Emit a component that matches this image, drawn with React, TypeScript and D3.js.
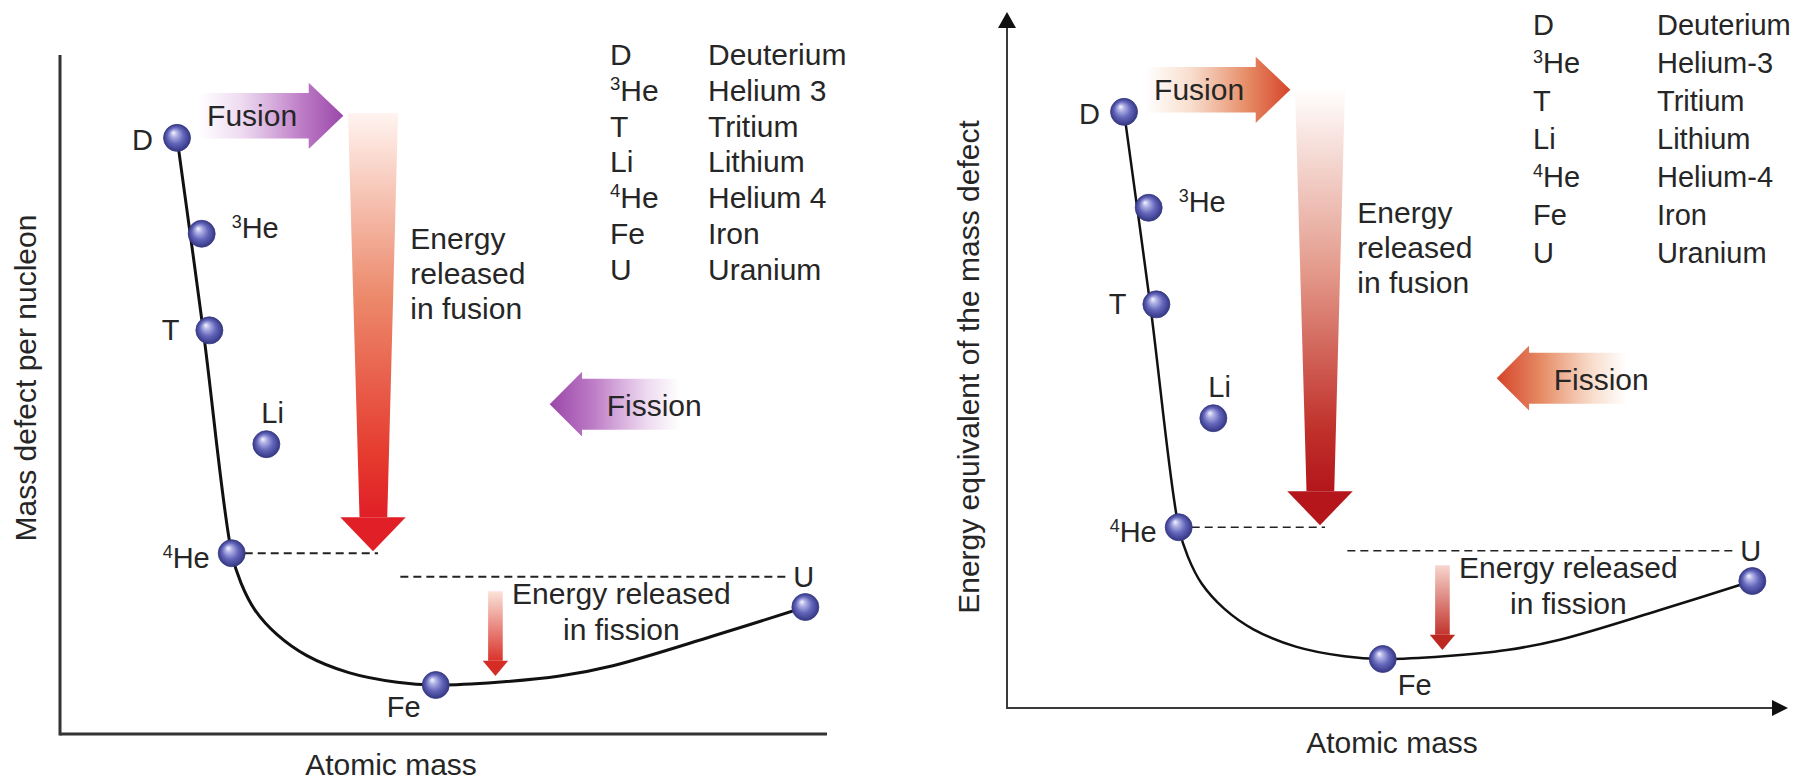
import React from "react";
import * as d3 from "d3";

// ---------- DATA (abstract units: atomic mass 0-100, mass defect 0-100) ----------
const nuclides = ["D", "3He", "T", "Li", "4He", "Fe", "U"];
const nuclideMass = [15.2, 18.4, 19.4, 26.8, 22.3, 48.8, 96.8];
const nuclideDefect = [86.4, 72.5, 58.5, 42.0, 26.2, 7.1, 18.4];

const curveMass = [15.2, 18.6, 22.3, 23.5, 25.3, 28.2, 32.0, 37.5, 43.8, 48.8, 56.8, 64.9, 71.8, 84.8, 96.8];
const curveDefect = [86.4, 58.5, 26.2, 21.9, 18.0, 14.4, 11.4, 8.9, 7.5, 7.1, 7.5, 8.4, 9.9, 14.2, 18.4];

const legendSymbols = ["D", "3He", "T", "Li", "4He", "Fe", "U"];
const legendNamesLeft = ["Deuterium", "Helium 3", "Tritium", "Lithium", "Helium 4", "Iron", "Uranium"];
const legendNamesRight = ["Deuterium", "Helium-3", "Tritium", "Lithium", "Helium-4", "Iron", "Uranium"];

const xTitle = "Atomic mass";
const yTitleLeft = "Mass defect per nucleon";
const yTitleRight = "Energy equivalent of the mass defect";
const fusionLines = ["Energy", "released", "in fusion"];
const fissionLines = ["Energy released", "in fission"];

// ---------- LAYOUT (styles / positions, not data) ----------
const W = 1807;
const H = 782;
const FONT = "'Liberation Sans', Arial, Helvetica, sans-serif";
const TEXT = "#262626";

const labelOffsets: Record<string, { anchor: string; dx: number; dy: number }> = {
  D: { anchor: "end", dx: -24, dy: 12 },
  "3He": { anchor: "start", dx: 30, dy: 4 },
  T: { anchor: "end", dx: -30, dy: 10 },
  Li: { anchor: "start", dx: -5, dy: -21 },
  "4He": { anchor: "end", dx: -22, dy: 15 },
  U: { anchor: "start", dx: -12, dy: -20 },
};

const annot = {
  fusionArrow: { x0: 18, xHead: 32.3, xTip: 36.8, yc: 89.6, bh: 3.3, hh: 4.8 },
  fusionText: { x: 19.1, y: 88.1 },
  fissionArrow: { xTip: 63.6, xHead: 67.8, x1: 80.5, yc: 47.8, bh: 3.7, hh: 4.7 },
  fissionText: { x: 71.0, y: 46.1 },
  energyArrow: { yTop: 90, yHead: 31.4, yTip: 26.5, topL: 37.4, topR: 43.9, botL: 38.9, botR: 42.5, headL: 36.4, headR: 44.9 },
  energyText: { x: 45.5, ys: [70.3, 65.2, 60.1] },
  dash1: { x1: 41.3, y: 26.2 },
  dash2: { x0: 44.2, x1: 94.5, y: 22.8 },
  smallArrow: { yTop: 20.7, yHead: 10.6, yTip: 8.4, bodyL: 55.6, bodyR: 57.5, headL: 54.9, headR: 58.2 },
  smallText: { x: 72.9, ys: [18.8, 13.6] },
};

const panels = [
  {
    id: "L",
    ox: 60, oy: 734, xAxisEnd: 827, yAxisTop: 55, arrows: false,
    axisW: 3, axisColor: "#333", curveW: 3, dashW: 2,
    yTitle: yTitleLeft, yTitleX: 36, yTitleY: 378, xTitleX: 391, xTitleY: 775,
    legendX1: 610, legendX2: 708, legendY0: 65, legendDy: 35.8, legendFont: 30,
    names: legendNamesLeft,
    feLabel: { anchor: "start", dx: -49, dy: 32 },
    side: { dark: "#9a47a8", mid: "#bf7fc8", light: "#ecd6ef" },
    big: { top: "#fff4f0", mid: "#ec8a6c", low: "#e53a2e", head: "#e01f27" },
    small: { top: "#fbe3da", low: "#d9332b", head: "#d52c26" },
  },
  {
    id: "R",
    ox: 1007, oy: 708, xAxisEnd: 1788, yAxisTop: 12, arrows: true,
    axisW: 2, axisColor: "#3a3a3a", curveW: 2.5, dashW: 1.6,
    yTitle: yTitleRight, yTitleX: 979, yTitleY: 367, xTitleX: 1392, xTitleY: 753,
    legendX1: 1533, legendX2: 1657, legendY0: 35, legendDy: 38, legendFont: 29,
    names: legendNamesRight,
    feLabel: { anchor: "start", dx: 15, dy: 36 },
    side: { dark: "#d5442a", mid: "#e68c66", light: "#f8dccb" },
    big: { top: "#ffffff", mid: "#e49b8c", low: "#c0302a", head: "#b4161b" },
    small: { top: "#f7d6cf", low: "#c2342c", head: "#bd2820" },
  },
];

function sym(s: string, fs: number) {
  const m = s.match(/^(\d+)(.*)$/);
  if (!m) return s;
  const up = Math.round(fs * 0.36);
  return [
    <tspan key="a" fontSize={fs * 0.62} dy={-up}>{m[1]}</tspan>,
    <tspan key="b" dy={up}>{m[2]}</tspan>,
  ];
}

function Panel({ p }: { p: (typeof panels)[number] }) {
  const x = d3.scaleLinear().domain([0, 100]).range([p.ox, p.ox + 770]);
  const y = d3.scaleLinear().domain([0, 100]).range([p.oy, p.oy - 690]);
  const curvePts = curveMass.map((m, i) => [m, curveDefect[i]] as [number, number]);
  const line = d3
    .line<[number, number]>()
    .x((d) => x(d[0]))
    .y((d) => y(d[1]))
    .curve(d3.curveCatmullRom.alpha(0.5));

  const fa = annot.fusionArrow;
  const fusionPoly = [
    [fa.x0, fa.yc + fa.bh], [fa.xHead, fa.yc + fa.bh], [fa.xHead, fa.yc + fa.hh], [fa.xTip, fa.yc],
    [fa.xHead, fa.yc - fa.hh], [fa.xHead, fa.yc - fa.bh], [fa.x0, fa.yc - fa.bh],
  ].map((d) => `${x(d[0])},${y(d[1])}`).join(" ");

  const fi = annot.fissionArrow;
  const fissionPoly = [
    [fi.x1, fi.yc + fi.bh], [fi.xHead, fi.yc + fi.bh], [fi.xHead, fi.yc + fi.hh], [fi.xTip, fi.yc],
    [fi.xHead, fi.yc - fi.hh], [fi.xHead, fi.yc - fi.bh], [fi.x1, fi.yc - fi.bh],
  ].map((d) => `${x(d[0])},${y(d[1])}`).join(" ");

  const ea = annot.energyArrow;
  const energyBody = [
    [ea.topL, ea.yTop], [ea.topR, ea.yTop], [ea.botR, ea.yHead], [ea.botL, ea.yHead],
  ].map((d) => `${x(d[0])},${y(d[1])}`).join(" ");
  const energyHead = [
    [ea.headL, ea.yHead], [ea.headR, ea.yHead], [(ea.headL + ea.headR) / 2, ea.yTip],
  ].map((d) => `${x(d[0])},${y(d[1])}`).join(" ");

  const sa = annot.smallArrow;
  const smallBody = [
    [sa.bodyL, sa.yTop], [sa.bodyR, sa.yTop], [sa.bodyR, sa.yHead], [sa.bodyL, sa.yHead],
  ].map((d) => `${x(d[0])},${y(d[1])}`).join(" ");
  const smallHead = [
    [sa.headL, sa.yHead], [sa.headR, sa.yHead], [(sa.headL + sa.headR) / 2, sa.yTip],
  ].map((d) => `${x(d[0])},${y(d[1])}`).join(" ");

  const id = p.id;
  const he4 = nuclides.indexOf("4He");

  return (
    <g>
      <defs>
        <radialGradient id={`ball${id}`} cx="0.5" cy="0.5" r="0.5" fx="0.36" fy="0.3">
          <stop offset="0" stopColor="#f6f6ff" />
          <stop offset="0.25" stopColor="#aeb0e4" />
          <stop offset="0.6" stopColor="#6466bb" />
          <stop offset="0.9" stopColor="#404292" />
          <stop offset="1" stopColor="#35377c" />
        </radialGradient>
        <linearGradient id={`fus${id}`} gradientUnits="userSpaceOnUse" x1={x(fa.x0)} y1={0} x2={x(fa.xTip)} y2={0}>
          <stop offset="0" stopColor={p.side.light} stopOpacity="0" />
          <stop offset="0.3" stopColor={p.side.light} stopOpacity="0.9" />
          <stop offset="0.7" stopColor={p.side.mid} />
          <stop offset="1" stopColor={p.side.dark} />
        </linearGradient>
        <linearGradient id={`fis${id}`} gradientUnits="userSpaceOnUse" x1={x(fi.xTip)} y1={0} x2={x(fi.x1)} y2={0}>
          <stop offset="0" stopColor={p.side.dark} />
          <stop offset="0.35" stopColor={p.side.mid} />
          <stop offset="0.75" stopColor={p.side.light} stopOpacity="0.9" />
          <stop offset="1" stopColor={p.side.light} stopOpacity="0" />
        </linearGradient>
        <linearGradient id={`en${id}`} gradientUnits="userSpaceOnUse" x1={0} y1={y(ea.yTop)} x2={0} y2={y(ea.yHead)}>
          <stop offset="0" stopColor={p.big.top} />
          <stop offset="0.45" stopColor={p.big.mid} />
          <stop offset="0.85" stopColor={p.big.low} />
          <stop offset="1" stopColor={p.big.head} />
        </linearGradient>
        <linearGradient id={`sm${id}`} gradientUnits="userSpaceOnUse" x1={0} y1={y(sa.yTop)} x2={0} y2={y(sa.yHead)}>
          <stop offset="0" stopColor={p.small.top} />
          <stop offset="1" stopColor={p.small.low} />
        </linearGradient>
      </defs>

      {/* axes */}
      <line x1={p.ox} y1={p.oy} x2={p.arrows ? p.xAxisEnd - 14 : p.xAxisEnd} y2={p.oy} stroke={p.axisColor} strokeWidth={p.axisW} />
      <line x1={p.ox} y1={p.oy + p.axisW / 2} x2={p.ox} y2={p.arrows ? p.yAxisTop + 14 : p.yAxisTop} stroke={p.axisColor} strokeWidth={p.axisW} />
      {p.arrows && (
        <>
          <polygon points={`${p.ox - 9},${p.yAxisTop + 16} ${p.ox + 9},${p.yAxisTop + 16} ${p.ox},${p.yAxisTop}`} fill="#111" />
          <polygon points={`${p.xAxisEnd - 16},${p.oy - 8} ${p.xAxisEnd - 16},${p.oy + 8} ${p.xAxisEnd},${p.oy}`} fill="#111" />
        </>
      )}

      {/* axis titles */}
      <text x={p.xTitleX} y={p.xTitleY} textAnchor="middle" fontSize={30} fill={TEXT}>{xTitle}</text>
      <text transform={`translate(${p.yTitleX},${p.yTitleY}) rotate(-90)`} textAnchor="middle" fontSize={30} fill={TEXT}>{p.yTitle}</text>

      {/* fusion / fission side arrows */}
      <polygon points={fusionPoly} fill={`url(#fus${id})`} />
      <text x={x(annot.fusionText.x)} y={y(annot.fusionText.y)} fontSize={30} fill={TEXT}>Fusion</text>
      <polygon points={fissionPoly} fill={`url(#fis${id})`} />
      <text x={x(annot.fissionText.x)} y={y(annot.fissionText.y)} fontSize={30} fill={TEXT}>Fission</text>

      {/* energy released in fusion arrow */}
      <polygon points={energyBody} fill={`url(#en${id})`} />
      <polygon points={energyHead} fill={p.big.head} />
      {fusionLines.map((t, i) => (
        <text key={t} x={x(annot.energyText.x)} y={y(annot.energyText.ys[i])} fontSize={30} fill={TEXT}>{t}</text>
      ))}

      {/* dashed reference lines */}
      <line x1={x(nuclideMass[he4])} x2={x(annot.dash1.x1)} y1={y(annot.dash1.y)} y2={y(annot.dash1.y)}
        stroke="#222" strokeWidth={p.dashW} strokeDasharray="8,5" />
      <line x1={x(annot.dash2.x0)} x2={x(annot.dash2.x1)} y1={y(annot.dash2.y)} y2={y(annot.dash2.y)}
        stroke="#222" strokeWidth={p.dashW} strokeDasharray="8,5" />

      {/* energy released in fission arrow */}
      <polygon points={smallBody} fill={`url(#sm${id})`} />
      <polygon points={smallHead} fill={p.small.head} />
      {fissionLines.map((t, i) => (
        <text key={t} x={x(annot.smallText.x)} y={y(annot.smallText.ys[i])} textAnchor="middle" fontSize={30} fill={TEXT}>{t}</text>
      ))}

      {/* binding curve */}
      <path d={line(curvePts) || ""} fill="none" stroke="#111" strokeWidth={p.curveW} strokeLinejoin="round" />

      {/* nuclide balls + labels */}
      {nuclides.map((n, i) => {
        const cx = x(nuclideMass[i]);
        const cy = y(nuclideDefect[i]);
        const lo = n === "Fe" ? p.feLabel : labelOffsets[n];
        return (
          <g key={n}>
            <circle cx={cx} cy={cy} r={13.5} fill={`url(#ball${id})`} stroke="#3a3c86" strokeWidth={0.8} />
            <text x={cx + lo.dx} y={cy + lo.dy} textAnchor={lo.anchor as any} fontSize={29} fill={TEXT}>{sym(n, 29)}</text>
          </g>
        );
      })}

      {/* legend */}
      {legendSymbols.map((s, i) => (
        <g key={s}>
          <text x={p.legendX1} y={p.legendY0 + i * p.legendDy} fontSize={p.legendFont} fill={TEXT}>{sym(s, p.legendFont)}</text>
          <text x={p.legendX2} y={p.legendY0 + i * p.legendDy} fontSize={p.legendFont} fill={TEXT}>{p.names[i]}</text>
        </g>
      ))}
    </g>
  );
}

export default function App() {
  return (
    <svg
      width={W}
      height={H}
      viewBox={`0 0 ${W} ${H}`}
      style={{ position: "absolute", left: 0, top: 0, background: "#fff" }}
      fontFamily={FONT}
    >
      <rect width={W} height={H} fill="#fff" />
      {panels.map((p) => (
        <Panel key={p.id} p={p} />
      ))}
    </svg>
  );
}
